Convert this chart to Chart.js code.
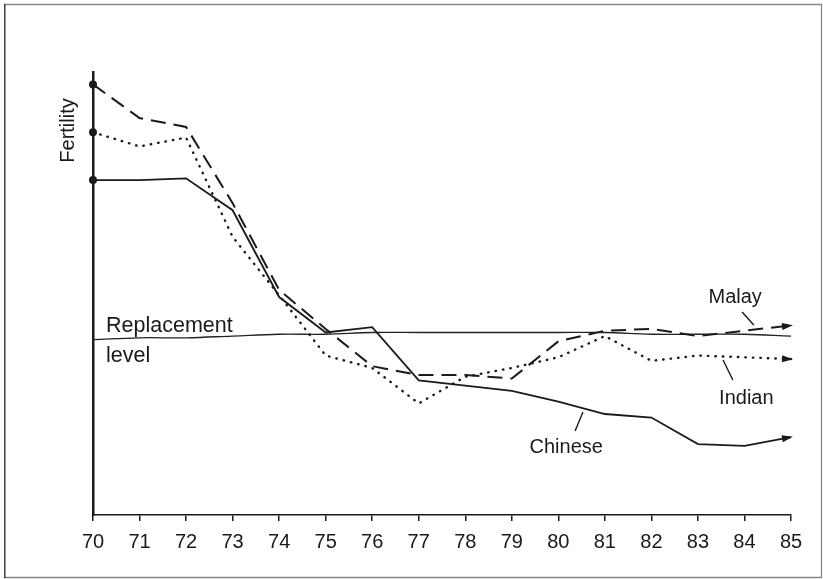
<!DOCTYPE html>
<html>
<head>
<meta charset="utf-8">
<style>
  html, body { margin: 0; padding: 0; background: #fff; }
  #wrap { width: 823px; height: 579px; }
</style>
<script src="https://cdn.jsdelivr.net/npm/chart.js@4.4.1/dist/chart.umd.min.js"></script>
</head>
<body>
<div id="wrap"><canvas id="fertChart" width="823" height="579"></canvas></div>
<script>
// years 1970-1985, fertility
const years = ['70', '71', '72', '73', '74', '75', '76', '77', '78', '79', '80', '81', '82', '83', '84', '85'];
const chinese = [2.89, 2.89, 2.90, 2.72, 2.23, 2.03, 2.06, 1.76, 1.73, 1.70, 1.64, 1.57, 1.55, 1.40, 1.39, 1.44];
const malay = [3.43, 3.24, 3.19, 2.76, 2.27, 2.05, 1.84, 1.79, 1.79, 1.77, 1.98, 2.04, 2.05, 2.01, 2.04, 2.07];
const indian = [3.16, 3.08, 3.13, 2.57, 2.24, 1.90, 1.83, 1.63, 1.78, 1.83, 1.89, 2.01, 1.87, 1.90, 1.89, 1.88];
const replacement = [1.99, 2.00, 2.00, 2.01, 2.02, 2.02, 2.03, 2.03, 2.03, 2.03, 2.03, 2.03, 2.02, 2.02, 2.02, 2.01];

const ink = '#1a1a1a';
const font = '"Liberation Sans", Arial, sans-serif';

const firstDot = years.map((y, i) => i === 0 ? 4 : 0);

// frame, labels, leader lines and arrowheads
const decor = {
    id: 'decor',
    beforeDraw(chart) {
        const ctx = chart.ctx;
        ctx.save();
        ctx.lineWidth = 1.3;
        ctx.strokeStyle = '#888';
        ctx.beginPath();
        ctx.moveTo(4, 4.5); ctx.lineTo(822, 4.5);
        ctx.moveTo(821.5, 4); ctx.lineTo(821.5, 578);
        ctx.moveTo(4, 577.5); ctx.lineTo(822, 577.5);
        ctx.stroke();
        ctx.strokeStyle = '#222';
        ctx.beginPath();
        ctx.moveTo(4.8, 4); ctx.lineTo(4.8, 578);
        ctx.stroke();
        ctx.restore();
    },
    afterDatasetsDraw(chart) {
        const ctx = chart.ctx;
        const xs = chart.scales.x, ys = chart.scales.y;
        const area = chart.chartArea;
        ctx.save();
        ctx.fillStyle = ink;
        ctx.strokeStyle = ink;

        // arrowheads on the three series
        [0, 1, 2].forEach(di => {
            const pts = chart.getDatasetMeta(di).data;
            const a = pts[pts.length - 2], b = pts[pts.length - 1];
            const ang = Math.atan2(b.y - a.y, b.x - a.x);
            ctx.save();
            ctx.translate(b.x, b.y);
            ctx.rotate(ang);
            ctx.beginPath();
            ctx.moveTo(2, 0);
            ctx.lineTo(-9, -3.5);
            ctx.lineTo(-9, 3.5);
            ctx.closePath();
            ctx.fill();
            ctx.restore();
        });

        ctx.font = '20px ' + font;
        ctx.textBaseline = 'middle';
        ctx.textAlign = 'center';

        // Fertility
        ctx.save();
        ctx.translate(area.left - 25, ys.getPixelForValue(3.17));
        ctx.rotate(-Math.PI / 2);
        ctx.fillText('Fertility', 0, 0);
        ctx.restore();

        // replacement level
        const r0 = ys.getPixelForValue(replacement[0]);
        ctx.font = '21.5px ' + font;
        ctx.textAlign = 'left';
        ctx.textBaseline = 'alphabetic';
        ctx.fillText('Replacement', area.left + 13, r0 - 8);
        ctx.fillText('level', area.left + 13, r0 + 22);

        // series names with leader lines
        ctx.font = '20px ' + font;
        ctx.textAlign = 'center';
        ctx.textBaseline = 'middle';
        ctx.lineWidth = 1.4;
        const names = [
            { t: 'Malay', at: 13.8, ty: 297, l: [[13.95, 312], [14.2, 325]] },
            { t: 'Indian', at: 14.04, ty: 398, l: [[13.54, 360], [13.75, 380]] },
            { t: 'Chinese', at: 10.17, ty: 447, l: [[10.53, 412], [10.36, 431]] }
        ];
        names.forEach(n => {
            ctx.fillText(n.t, xs.getPixelForValue(n.at), n.ty);
            ctx.beginPath();
            ctx.moveTo(xs.getPixelForValue(n.l[0][0]), n.l[0][1]);
            ctx.lineTo(xs.getPixelForValue(n.l[1][0]), n.l[1][1]);
            ctx.stroke();
        });
        ctx.restore();
    }
};

const cfg = {
    type: 'line',
    data: {
        labels: years,
        datasets: [
            {
                label: 'Malay',
                data: malay,
                borderColor: ink,
                backgroundColor: ink,
                borderWidth: 2,
                borderDash: [15, 8],
                pointRadius: firstDot,
                pointBorderWidth: 0,
                tension: 0,
                clip: false
            },
            {
                label: 'Indian',
                data: indian,
                borderColor: ink,
                backgroundColor: ink,
                borderWidth: 2.4,
                borderDash: [0.5, 7],
                borderCapStyle: 'round',
                pointRadius: firstDot,
                pointBorderWidth: 0,
                tension: 0,
                clip: false
            },
            {
                label: 'Chinese',
                data: chinese,
                borderColor: ink,
                backgroundColor: ink,
                borderWidth: 1.8,
                pointRadius: firstDot,
                pointBorderWidth: 0,
                tension: 0,
                clip: false
            },
            {
                label: 'Replacement level',
                data: replacement,
                borderColor: '#222',
                borderWidth: 1.3,
                pointRadius: 0,
                tension: 0.4,
                clip: false
            }
        ]
    },
    options: {
        responsive: false,
        animation: false,
        layout: { padding: { left: 93, right: 32, top: 72, bottom: 16 } },
        plugins: {
            legend: { display: false },
            tooltip: { enabled: false }
        },
        scales: {
            x: {
                offset: false,
                grid: { display: true, drawOnChartArea: false, drawTicks: true, tickLength: 6, color: ink, lineWidth: 1.5 },
                border: { display: true, color: ink, width: 1.5 },
                ticks: { color: ink, font: { size: 20, family: font }, padding: 9, maxRotation: 0, autoSkip: false }
            },
            y: {
                min: 1,
                max: 3.5,
                grid: { display: false, drawTicks: false },
                border: { display: true, color: ink, width: 2.5 },
                ticks: { display: false }
            }
        }
    },
    plugins: [decor]
};

new Chart(document.getElementById('fertChart'), cfg);
</script>
</body>
</html>
